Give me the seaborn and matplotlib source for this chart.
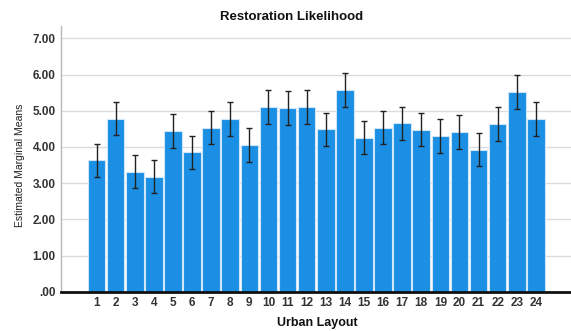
import matplotlib
matplotlib.use("Agg")
import matplotlib.pyplot as plt
import numpy as np
import pandas as pd
import seaborn as sns

# Estimated marginal means per urban layout, with 95% CI half-widths
LAYOUTS = [str(i) for i in range(1, 25)]
MEANS = [3.63, 4.78, 3.32, 3.18, 4.44, 3.85, 4.53, 4.77, 4.06, 5.09, 5.08, 5.11,
         4.49, 5.56, 4.26, 4.53, 4.65, 4.48, 4.30, 4.41, 3.92, 4.63, 5.53, 4.77]
CI_HALF = [0.46, 0.46, 0.46, 0.45, 0.46, 0.46, 0.46, 0.46, 0.47, 0.47, 0.47, 0.47,
           0.46, 0.47, 0.46, 0.46, 0.46, 0.46, 0.47, 0.47, 0.46, 0.47, 0.47, 0.46]
Y_TICKS = [0, 1, 2, 3, 4, 5, 6, 7]
Y_TICKLABELS = [".00", "1.00", "2.00", "3.00", "4.00", "5.00", "6.00", "7.00"]

sns.set_theme(style="white")
plt.rcParams['font.family'] = ['Liberation Sans', 'DejaVu Sans']
TEXT = "#333333"

df = pd.DataFrame({"layout": LAYOUTS, "mean": MEANS, "ci": CI_HALF})

fig = plt.figure(figsize=(5.71, 3.31), dpi=100)
ax = fig.add_axes([0.1068, 0.1187, 0.8932, 0.8037])

sns.barplot(data=df, x="layout", y="mean", order=LAYOUTS, color="#1a8fe3",
            saturation=1, width=0.92, edgecolor="#cfe6fa", linewidth=0.8,
            errorbar=None, ax=ax, zorder=2)
ax.errorbar(np.arange(len(LAYOUTS)), df["mean"], yerr=df["ci"], fmt="none",
            ecolor="#222222", elinewidth=1.0, capsize=2.5, capthick=1.0,
            zorder=3)

# Aesthetics
ax.set_xlim(-1.86, 24.84)
ax.set_ylim(0, 7.35)
ax.set_yticks(Y_TICKS)
ax.set_yticklabels(Y_TICKLABELS)
ax.yaxis.grid(True, color="#dcdcdc", linewidth=1.0, zorder=0)
ax.set_axisbelow(True)
ax.tick_params(axis="both", length=0, pad=4, labelsize=8.5, labelcolor=TEXT)
for lab in ax.get_yticklabels():
    lab.set_fontweight("bold")
for lab in ax.get_xticklabels():
    lab.set_fontweight("bold")
ax.set_xlabel("Urban Layout", fontsize=9, fontweight="bold", color="#111111",
              va="center")
ax.xaxis.set_label_coords(317 / 571, 1 - 323 / 331, transform=fig.transFigure)
ax.set_ylabel("Estimated Marginal Means", fontsize=7.5, color="#222222",
              va="center")
ax.yaxis.set_label_coords(20 / 571, 1 - 165 / 331, transform=fig.transFigure)
for side in ["top", "right"]:
    ax.spines[side].set_visible(False)
ax.spines["left"].set_color("#b8b8b8")
ax.spines["left"].set_linewidth(1.0)
ax.spines["bottom"].set_color("#111111")
ax.spines["bottom"].set_linewidth(2.0)
ax.spines["bottom"].set_zorder(4)

fig.text(291.5 / 571, 1 - 17 / 331, "Restoration Likelihood", ha="center",
         va="center", fontsize=9.5, fontweight="bold", color="#111111")

fig.savefig("out.png", dpi=100)
